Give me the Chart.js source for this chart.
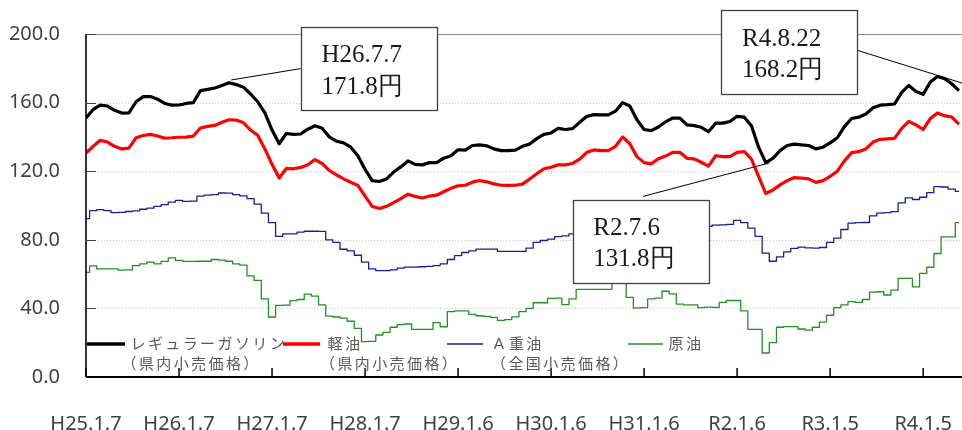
<!DOCTYPE html>
<html><head><meta charset="utf-8">
<script src="https://cdn.jsdelivr.net/npm/chart.js@4/dist/chart.umd.min.js"></script>
<style>html,body{margin:0;padding:0;background:#fff;}#wrap{width:962px;height:430px;position:relative;}</style>
</head><body><div id="wrap"><canvas id="c" width="962" height="430"></canvas></div>
<script>
// ---- data (sampled roughly every 4 weeks from H25.1.7) ----
const seriesNames = ['レギュラーガソリン', '軽油', 'Ａ重油', '原油'];
const seriesNotes = ['（県内小売価格）', '（県内小売価格）', '（全国小売価格）', ''];

const gasoline = [151,156,158.5,158,155.5,153.9,154,160.5,163.5,163.5,
  162,159.5,158.5,158.6,159.5,160,167,167.7,168.5,170,
  171.6,170.5,169,165,160.5,154,144,136,142,141.5,
  141.7,144.5,146.5,145,140,137.5,136.5,134,129,121,
  114.5,114,115.5,119.5,122.5,126,124,123.7,125,125,
  127.6,129,132.5,132.3,135,135.3,134.8,133,132,132,
  132.3,134.5,135.8,139,141.5,142.3,145,144.3,144.8,148.5,
  152,153,152.8,152.8,155,160,158,150,144.3,143.7,
  145.8,148.8,151,151,147,146.6,145.6,143,148,148,
  149,152,151.5,146.5,134,125,127.5,132,135,135.8,
  135.3,135,133,134,136.5,139.5,146,150.7,151.5,153.4,
  157,158.5,158.8,159.2,166,170,166.5,164.8,172,175.2,
  174,171,167];

const diesel = [130.6,134.5,138,137,134.5,133,133.5,139.5,140.8,141.5,
  140.5,139.3,139.5,139.8,139.9,140.5,145.2,146.1,146.7,148.5,
  150,149.8,148.3,144,141,133,124,116,121.6,121.4,
  122.2,123.8,126.8,124.5,120.4,117.8,115.5,113.6,111.7,105.5,
  99.5,98.3,99.5,101.7,104,106.6,105.3,104.4,105.5,106,
  108,110,111.5,111.8,113.6,114.6,113.8,112.6,111.8,111.7,
  111.8,112.5,115.4,118.5,121.4,122.3,123.7,123.7,124.5,127,
  131,132.4,132,132,134.5,140,136,128.5,125,124.3,
  127.3,128.8,131,131,127.5,127.2,125.2,123,129,128.5,
  128.5,131,131.5,127,117,107,109,112,114.5,116.3,
  116,115.5,113.5,114.5,117,120,126,130.8,131.4,133,
  137,138.6,138.9,139.1,145,149,147,144.3,150.7,154,
  152.4,151.6,147.5];

const heavyOilA = [92.3,97,97.6,97,95.8,96,96.5,96.9,97.8,98.5,
  99.5,100.5,102,103,102.4,102.5,105.5,106,106.3,107.3,
  107.2,106.3,105.6,104,100.8,95.5,90,82,83.5,83.5,
  84.5,85,85,84.9,80,78.5,74.5,73.5,71,67,
  63,62,62,62.5,63.5,64.1,64.1,64.3,64.5,65,
  66,68.5,70.8,72.6,73.6,74.6,74.6,74.6,73.2,73.2,
  73.2,73.2,75.1,78.5,79.6,80.4,81.9,82.3,83.5,84,
  84.5,85,85.5,86,86,86.5,87,88,88,87,
  86,86,86.5,87,87.5,88,88,87.8,88.5,88.7,
  89,91.3,90,86.8,82,72.2,67.5,70,73,75,
  75.7,75.3,75.1,75.5,78.5,81,86,89.7,90,90.1,
  94,95.5,95.9,96.4,101.5,104.5,103.5,104.8,107.5,111,
  110.8,109.5,108.2];

const crudeOil = [61,64.8,63,63,63,62.3,62.5,65,66,67,
  66,67.4,69.5,68,67.4,67.4,67.5,67.5,68.5,68.2,
  67.5,66,65.2,59,56.3,45.5,35,41.8,41.9,44.5,
  45.2,48.3,47.2,42,35.5,35,34.3,32.5,28.3,20.6,
  20.8,24.5,26,29,30.5,30.9,27.8,27.8,27.8,31.7,
  29.3,38.1,38.6,38.6,36.5,35.7,35.3,34.8,33,33.5,
  35.1,38.1,40,43.3,43.3,45.8,46,42.2,45.5,51.1,
  51.1,51.1,51.1,51.1,54.6,54.6,46.4,40.3,40.5,45.5,
  46,50,48.5,42.5,42,42,40.5,40.8,40.6,43.5,
  44.6,44.6,38.5,27.8,27.8,14,20,29,29.4,29.4,
  28,27.3,29,32,36,40.5,42,44,43.5,45.2,
  49.5,49.7,47.8,50.7,57.5,57.5,52.6,60.4,64,72,
  81.7,81.7,90];

const tickIndex  = [0,13,26,39,52,65,78,91,104,117];
const tickLabels = ['H25.1.7','H26.1.7','H27.1.7','H28.1.7','H29.1.6','H30.1.6','H31.1.6','R2.1.6','R3.1.5','R4.1.5'];
const yTicks = [0,40,80,120,160,200];

const calloutDates  = ['H26.7.7', 'R4.8.22', 'R2.7.6'];
const calloutValues = ['171.8円', '168.2円', '131.8円'];

// ---- drawing ----
const toXY = arr => arr.map((v, i) => ({x: i, y: v}));
const colors = ['#000000', '#ff0000', '#1c1c94', '#1f931f'];
const widths = [3.2, 3.2, 1.3, 1.3];

// callout layout in data coordinates (index, value)
const calloutLayout = [
  {box: [30.0, 49.0, 203.9, 155.5], text: [32.9, 187.3, 169.0], from: [30.0, 179.8], to: [20.3, 173.2]},
  {box: [88.75, 107.8, 213.8, 165.2], text: [91.7, 196.7, 178.6], from: [107.8, 190.5], to: [122.43, 171.4]},
  {box: [68.1, 87.1, 103.4, 54.8], text: [70.9, 86.9, 68.4], from: [77.85, 105.3], to: [95.5, 124.8]}
];

function spaced(ctx, str, x, y, sp) {
  let cx = x;
  for (const ch of str) { ctx.fillText(ch, cx, y); cx += ctx.measureText(ch).width + sp; }
}

const framePlugin = {
  id: 'frame',
  beforeDatasetsDraw(chart) {
    const {ctx, chartArea: a, scales: {y}} = chart;
    ctx.save();
    yTicks.forEach(v => {
      if (v === 0) return;
      const py = Math.round(y.getPixelForValue(v)) + 0.5;
      ctx.beginPath();
      if (v === 200) { ctx.setLineDash([]); ctx.strokeStyle = '#8c8c8c'; }
      else { ctx.setLineDash([1, 2]); ctx.strokeStyle = '#c4c4c4'; }
      ctx.lineWidth = 1;
      ctx.moveTo(a.left, py); ctx.lineTo(a.right, py); ctx.stroke();
    });
    ctx.restore();
  },
  afterDatasetsDraw(chart) {
    const {ctx, chartArea: a, scales: {x, y}} = chart;
    ctx.save();
    // axes
    ctx.strokeStyle = '#000'; ctx.lineWidth = 1.6;
    ctx.beginPath(); ctx.moveTo(a.left, a.top); ctx.lineTo(a.left, a.bottom); ctx.stroke();
    ctx.lineWidth = 2;
    ctx.beginPath(); ctx.moveTo(a.left, a.bottom); ctx.lineTo(a.right, a.bottom); ctx.stroke();
    // inner tick marks
    ctx.lineWidth = 1.5;
    tickIndex.forEach(t => {
      const px = x.getPixelForValue(t);
      ctx.beginPath(); ctx.moveTo(px, a.bottom); ctx.lineTo(px, a.bottom - 9); ctx.stroke();
    });
    ctx.strokeStyle = '#404040'; ctx.lineWidth = 1;
    yTicks.forEach(v => {
      if (v === 0) return;
      const py = Math.round(y.getPixelForValue(v)) + 0.5;
      ctx.beginPath(); ctx.moveTo(a.left, py); ctx.lineTo(a.left + 10, py); ctx.stroke();
    });

    // legend
    const items = [
      {l0: 1, l1: 39, t1: 44.5, t2: 35.5},
      {l0: 197, l1: 234, t1: 241.5, t2: 234},
      {l0: 361, l1: 397, t1: 405.5, t2: 405},
      {l0: 542, l1: 577, t1: 582.5, t2: 582}
    ];
    ctx.font = '15px "Noto Sans CJK JP"';
    ctx.fillStyle = '#595959';
    ctx.textBaseline = 'middle';
    ctx.textAlign = 'left';
    items.forEach((it, k) => {
      ctx.strokeStyle = colors[k];
      ctx.lineWidth = k < 2 ? 3.6 : 1.5;
      ctx.beginPath();
      ctx.moveTo(a.left + it.l0, a.bottom - 33); ctx.lineTo(a.left + it.l1, a.bottom - 33); ctx.stroke();
      spaced(ctx, seriesNames[k], a.left + it.t1, a.bottom - 34, 2.4);
      if (seriesNotes[k]) spaced(ctx, seriesNotes[k], a.left + it.t2, a.bottom - 14, 2.4);
    });

    // callouts
    calloutLayout.forEach((c) => {
      ctx.strokeStyle = '#000'; ctx.lineWidth = 1;
      ctx.beginPath();
      ctx.moveTo(x.getPixelForValue(c.from[0]), y.getPixelForValue(c.from[1]));
      ctx.lineTo(x.getPixelForValue(c.to[0]), y.getPixelForValue(c.to[1]));
      ctx.stroke();
    });
    calloutLayout.forEach((c, k) => {
      const x0 = Math.round(x.getPixelForValue(c.box[0])) + 0.5;
      const x1 = Math.round(x.getPixelForValue(c.box[1])) + 0.5;
      const y0 = Math.round(y.getPixelForValue(c.box[2])) + 0.5;
      const y1 = Math.round(y.getPixelForValue(c.box[3])) + 0.5;
      ctx.fillStyle = '#ffffff';
      ctx.fillRect(x0, y0, x1 - x0, y1 - y0);
      ctx.strokeStyle = '#404040'; ctx.lineWidth = 1.3;
      ctx.strokeRect(x0, y0, x1 - x0, y1 - y0);
      ctx.fillStyle = '#1a1a1a';
      ctx.font = '25px "Liberation Serif", "DejaVu Serif", serif';
      ctx.textBaseline = 'middle';
      const tx = x.getPixelForValue(c.text[0]);
      ctx.fillText(calloutDates[k], tx, y.getPixelForValue(c.text[1]));
      ctx.fillText(calloutValues[k], tx, y.getPixelForValue(c.text[2]));
    });
    ctx.restore();
  }
};

new Chart(document.getElementById('c'), {
  type: 'line',
  data: {
    datasets: [gasoline, diesel, heavyOilA, crudeOil].map((arr, k) => ({
      label: seriesNames[k],
      data: toXY(arr),
      borderColor: colors[k],
      backgroundColor: colors[k],
      borderWidth: widths[k],
      pointRadius: 0,
      tension: 0,
      stepped: k >= 2 ? 'middle' : false,
      borderJoinStyle: 'round',
      order: 4 - k
    }))
  },
  options: {
    responsive: false,
    animation: false,
    devicePixelRatio: 1,
    layout: {padding: {top: 34, right: 0, left: 0, bottom: 0}},
    plugins: {legend: {display: false}, tooltip: {enabled: false}},
    scales: {
      x: {
        type: 'linear', min: 0, max: 122.43,
        grid: {display: false, drawTicks: false}, border: {display: false},
        afterBuildTicks: ax => { ax.ticks = tickIndex.map(v => ({value: v})); },
        afterFit: ax => { ax.height = 53; ax.paddingLeft = 0; ax.paddingRight = 0; },
        ticks: {
          autoSkip: false, maxRotation: 0, minRotation: 0, padding: 35,
          font: {family: '"Noto Sans"', size: 20}, color: '#404040',
          callback: v => { const i = tickIndex.indexOf(v); return i >= 0 ? tickLabels[i] : ''; }
        }
      },
      y: {
        min: 0, max: 200,
        grid: {display: false, drawTicks: false}, border: {display: false},
        afterBuildTicks: ax => { ax.ticks = yTicks.map(v => ({value: v})); },
        afterFit: ax => { ax.width = 86; ax.paddingTop = 0; ax.paddingBottom = 0; },
        ticks: {
          padding: 26, font: {family: '"Noto Sans"', size: 20}, color: '#404040',
          callback: v => Number(v).toFixed(1)
        }
      }
    }
  },
  plugins: [framePlugin]
});
</script>
</body></html>
